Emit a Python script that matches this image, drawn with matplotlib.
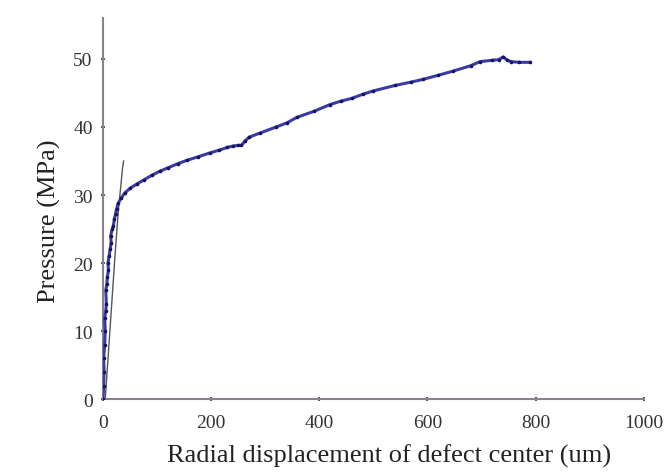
import matplotlib.pyplot as plt

# radial displacement (um) vs pressure (MPa)
disp_um = [0, 1, 2, 1, 3, 4, 3, 5, 6, 5, 7, 8, 10, 9, 11, 13, 15, 14, 17, 19,
           21, 23, 25, 28, 33, 40, 50, 62, 75, 90, 105, 120, 138, 155, 175, 198,
           215, 230, 240, 250, 256, 262, 270, 290, 320, 340, 358, 390, 420, 440,
           460, 480, 500, 540, 570, 592, 620, 647, 680, 697, 720, 732, 740, 748,
           755, 770, 789]
pressure_mpa = [0, 2, 4, 6, 8, 10, 12, 13, 14, 16, 17, 18, 19, 20, 21, 22, 23,
                24, 25, 25.5, 26.5, 27.2, 28.0, 28.8, 29.5, 30.3, 31.0, 31.6,
                32.2, 32.9, 33.5, 34.0, 34.6, 35.1, 35.6, 36.2, 36.6, 37.0, 37.2,
                37.3, 37.3, 37.9, 38.5, 39.1, 40.0, 40.6, 41.4, 42.3, 43.3, 43.8,
                44.2, 44.8, 45.3, 46.1, 46.6, 47.0, 47.6, 48.2, 49.0, 49.6, 49.8,
                49.9, 50.3, 49.8, 49.6, 49.5, 49.5]

# straight elastic line near the origin
fit_disp = [4, 10, 16, 22, 28, 33, 36, 38]
fit_pressure = [0, 7, 14, 21, 27.5, 31.5, 34, 35]

x_ticks = [0, 200, 400, 600, 800, 1000]
y_ticks = [0, 10, 20, 30, 40, 50]

plt.rcParams['font.family'] = ['Liberation Serif', 'DejaVu Serif']

fig = plt.figure(figsize=(6.65, 4.77), dpi=100)
ax = fig.add_axes([0.155, 0.161, 0.813, 0.799])

ax.plot(fit_disp, fit_pressure, color='#555555', linewidth=1.0, zorder=2)
ax.plot(disp_um, pressure_mpa, color='#3a3aa8', linewidth=2.2,
        marker='o', markersize=2.6, markerfacecolor='#15155a',
        markeredgewidth=0, zorder=3)

ax.set_xlim(0, 1000)
ax.set_ylim(0, 56)
ax.set_xticks(x_ticks)
ax.set_yticks(y_ticks)

for side in ['top', 'right']:
    ax.spines[side].set_visible(False)
for side in ['left', 'bottom']:
    ax.spines[side].set_color('#8a8090')
    ax.spines[side].set_linewidth(1.5)

ax.tick_params(direction='inout', length=3, width=1.2, color='#333333',
               labelsize=14, labelcolor='#333333')
ax.tick_params(axis='x', pad=9)
ax.tick_params(axis='y', pad=6)

ax.set_xlabel('Radial displacement of defect center (um)', fontsize=19,
              color='#222222')
ax.set_ylabel('Pressure (MPa)', fontsize=19, color='#222222')
# the labels sit a little off-centre in the original
ax.xaxis.set_label_coords(0.529, -0.117)
ax.yaxis.set_label_coords(-0.077, 0.47)

fig.savefig('out.png', dpi=100)
